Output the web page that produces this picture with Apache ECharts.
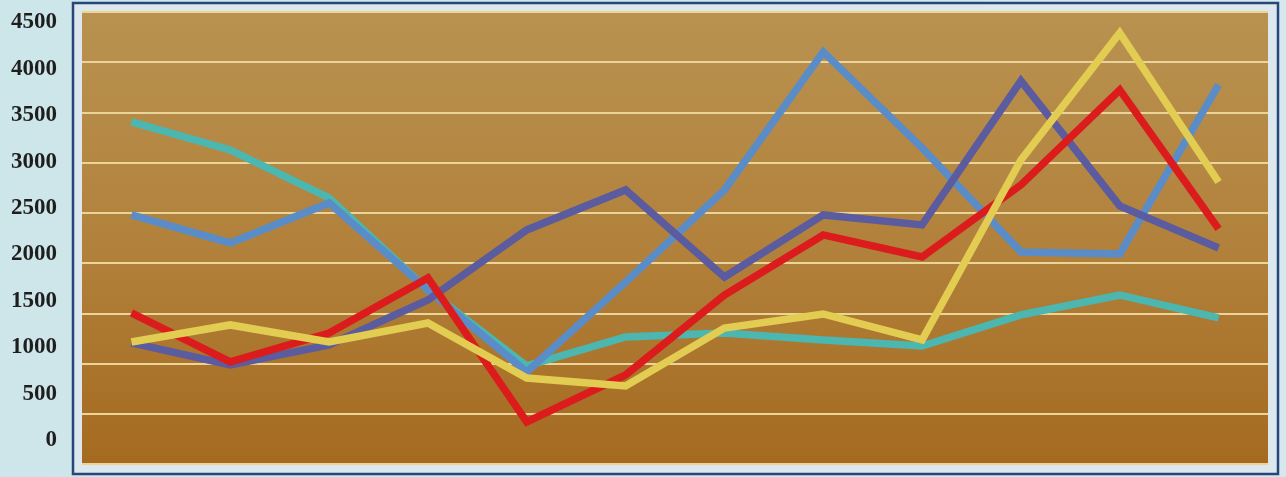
<!DOCTYPE html>
<html>
<head>
<meta charset="utf-8">
<script src="https://cdn.jsdelivr.net/npm/echarts@6/dist/echarts.min.js"></script>
<style>
html,body{margin:0;padding:0;background:#cfe5ea;}
#chart{width:1286px;height:477px;}
</style>
</head>
<body>
<div id="chart"></div>
<script>
var categories = ['1','2','3','4','5','6','7','8','9','10','11','12'];
var tealSeries   = [3428, 3126, 2609, 1617, 798, 1110, 1153, 1078, 1013, 1348, 1563, 1315];
var blueSeries   = [2426, 2124, 2555, 1617, 733, 1703, 2695, 4183, 3148, 2027, 2005, 3827];
var purpleSeries = [1046, 809, 1024, 1509, 2264, 2695, 1757, 2426, 2318, 3870, 2523, 2070];
var redSeries    = [1369, 841, 1153, 1746, 194, 701, 1563, 2210, 1973, 2749, 3773, 2275];
var yellowSeries = [1056, 1240, 1056, 1261, 668, 582, 1207, 1358, 1078, 3018, 4387, 2781];
var tickLabels = [0, 500, 1000, 1500, 2000, 2500, 3000, 3500, 4000, 4500];

var chart = echarts.init(document.getElementById('chart'));
function line(name, data, color) {
  return {
    name: name, type: 'line', data: data, yAxisIndex: 1,
    symbol: 'none', animation: false,
    lineStyle: { color: color, width: 7.5, cap: 'butt', join: 'miter' }
  };
}
chart.setOption({
  backgroundColor: {
    type: 'linear', x: 0, y: 0, x2: 1, y2: 1,
    colorStops: [{offset: 0, color: '#cde6ea'}, {offset: 1, color: '#d6e8ee'}]
  },
  animation: false,
  graphic: [{
    type: 'rect', z: -10, silent: true,
    shape: { x: 73, y: 3, width: 1205, height: 471 },
    style: { fill: '#dde7ee', stroke: '#27467a', lineWidth: 2.5 }
  }],
  grid: {
    left: 82, right: 18, top: 12, bottom: 13, show: true, borderWidth: 0,
    backgroundColor: {
      type: 'linear', x: 0, y: 0, x2: 0, y2: 1,
      colorStops: [{offset: 0, color: '#b99250'}, {offset: 0.5, color: '#b2823c'}, {offset: 1, color: '#a56a20'}]
    }
  },
  xAxis: {
    type: 'category', data: categories, boundaryGap: true,
    axisLine: { show: false }, axisTick: { show: false }, axisLabel: { show: false },
    splitLine: { show: false }
  },
  yAxis: [{
    type: 'value', min: 0, max: 4500, interval: 500,
    axisLine: { show: false }, axisTick: { show: false }, axisLabel: { show: false },
    splitLine: { show: true, lineStyle: { color: '#ead49a', width: 2 } }
  }, {
    type: 'value', min: -259, max: 4613, position: 'left',
    axisLine: { show: false }, axisTick: { show: false },
    splitLine: { show: false },
    axisLabel: {
      show: true, customValues: tickLabels, margin: 25,
      formatter: function (v) { return String(v); },
      fontFamily: 'Liberation Serif', fontWeight: 'bold', fontSize: 23, color: '#1e1e1e'
    }
  }],
  series: [
    line('A', tealSeries, '#4cb6b0'),
    line('B', blueSeries, '#5a8dc8'),
    line('C', purpleSeries, '#5b5b9f'),
    line('D', redSeries, '#dc1c1c'),
    line('E', yellowSeries, '#e2cd52')
  ]
});
</script>
</body>
</html>
